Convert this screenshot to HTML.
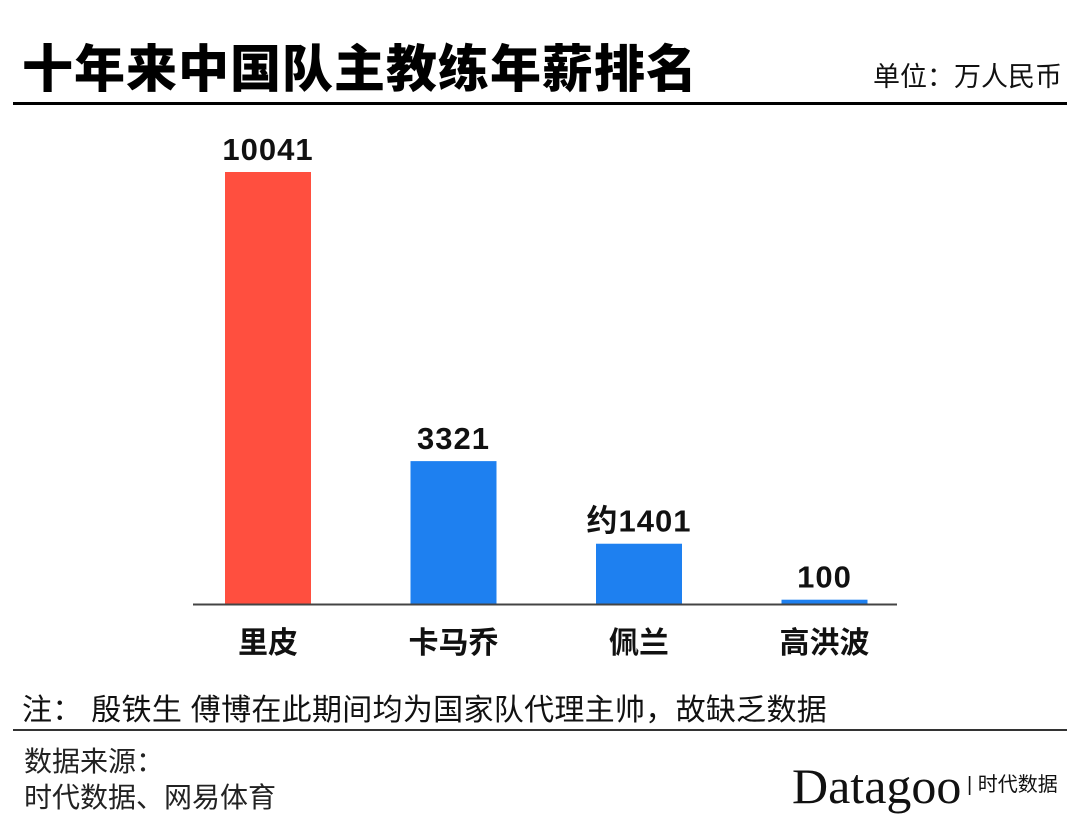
<!DOCTYPE html>
<html><head><meta charset="utf-8"><style>
body{margin:0;background:#fff;width:1080px;height:839px;overflow:hidden;font-family:"Liberation Sans","Noto Sans CJK SC",sans-serif;}
.t{position:absolute;white-space:nowrap;}
</style></head><body>
<div class="t" style="left:22px;top:28px;font-size:51px;font-weight:900;letter-spacing:1px;color:#000;">十年来中国队主教练年薪排名</div>
<div class="t" style="right:18px;top:55px;font-size:27px;color:#111;">单位：万人民币</div>
<div style="position:absolute;left:13px;top:102px;width:1054px;height:3px;background:#000;"></div>
<svg id="chart" width="1080" height="680" style="position:absolute;left:0;top:0"></svg>
<div class="t" style="left:22px;top:685px;font-size:30px;letter-spacing:0.3px;color:#111;">注：&nbsp;殷铁生 傅博在此期间均为国家队代理主帅，故缺乏数据</div>
<div style="position:absolute;left:13px;top:729px;width:1054px;height:2px;background:#333;"></div>
<div class="t" style="left:24px;top:744px;font-size:28px;color:#222;line-height:36px;">数据来源：<br>时代数据、网易体育</div>
<div class="t" style="left:792px;top:757px;font-family:'Liberation Serif','Noto Serif CJK SC',serif;font-size:50px;color:#111;">Datagoo<span style="font-family:'Liberation Sans','Noto Sans CJK SC',sans-serif;font-size:20px;vertical-align:12px;"> | 时代数据</span></div>
<script>
const categories=["里皮","卡马乔","佩兰","高洪波"];
const values=[10041,3321,1401,100];
const valueLabels=["10041","3321","约1401","100"];
const barColors=["#ff4f3f","#1e80f0","#1e80f0","#1e80f0"];
const svg=document.getElementById('chart');
const NS="http://www.w3.org/2000/svg";
const baseY=604,topY=172,maxV=10041;
function yScale(v){return baseY-(v/maxV)*(baseY-topY);}
function xScale(i){return 225+i*185.5;}
const bw=86;
categories.forEach((c,i)=>{
 const y=yScale(values[i]);
 const r=document.createElementNS(NS,'rect');
 r.setAttribute('x',xScale(i));r.setAttribute('y',y);r.setAttribute('width',bw);r.setAttribute('height',baseY-y);r.setAttribute('fill',barColors[i]);
 
 
 svg.appendChild(r);
 const t=document.createElementNS(NS,'text');
 t.setAttribute('x',xScale(i)+bw/2);t.setAttribute('y',y-12);t.setAttribute('text-anchor','middle');
 t.setAttribute('font-size','31');t.setAttribute('font-weight','bold');t.setAttribute('fill','#111');
 t.setAttribute('letter-spacing','1');
 t.setAttribute('font-family','"Liberation Sans","Noto Sans CJK SC",sans-serif');
 t.textContent=valueLabels[i];
 
 
 svg.appendChild(t);
 const l=document.createElementNS(NS,'text');
 l.setAttribute('x',xScale(i)+bw/2);l.setAttribute('y',653);l.setAttribute('text-anchor','middle');
 l.setAttribute('font-size','30');l.setAttribute('font-weight','bold');l.setAttribute('fill','#111');
 l.setAttribute('font-family','"Liberation Sans","Noto Sans CJK SC",sans-serif');
 l.textContent=c;
 
 
 svg.appendChild(l);
});
const ax=document.createElementNS(NS,'line');
ax.setAttribute('x1',193);ax.setAttribute('x2',897);ax.setAttribute('y1',baseY+0.5);ax.setAttribute('y2',baseY+0.5);ax.setAttribute('stroke','#444');ax.setAttribute('stroke-width','2');


svg.appendChild(ax);
</script>
</body></html>
